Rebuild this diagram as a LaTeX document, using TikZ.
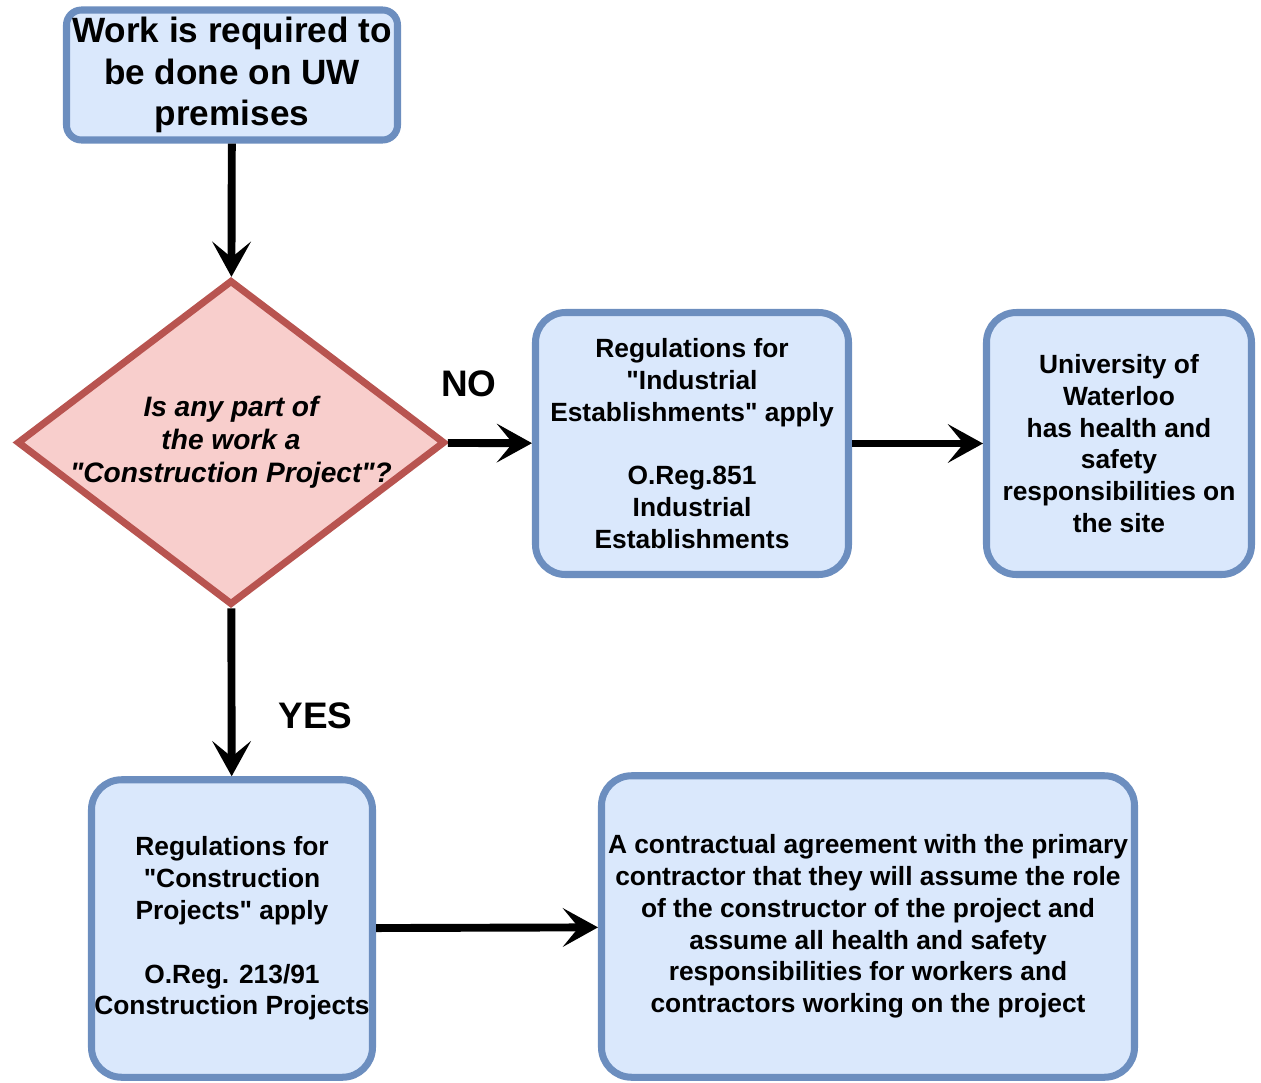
\documentclass[tikz,border=0pt]{standalone}
\usepackage{fontspec}
\setmainfont{Liberation Sans}[Ligatures=TeXOff]
\usetikzlibrary{arrows.meta, positioning, shapes.geometric}
\definecolor{boxfill}{HTML}{DAE8FC}
\definecolor{boxline}{HTML}{6C8EBF}
\definecolor{askfill}{HTML}{F8CECC}
\definecolor{askline}{HTML}{B85450}
\begin{document}
\begin{tikzpicture}[>={Stealth[length=20pt,width=22pt,inset=9pt]},startbox/.style={rectangle,rounded corners=0.3cm,draw=boxline,fill=boxfill,line width=4pt,align=center,inner sep=0pt,font=\fontsize{20}{23.8}\selectfont\bfseries},rulebox/.style={rectangle,rounded corners=0.6cm,draw=boxline,fill=boxfill,line width=4pt,align=center,inner sep=0pt,font=\fontsize{15}{18.1}\selectfont\bfseries},question/.style={diamond,aspect=1.317,draw=askline,fill=askfill,line width=4pt,align=center,inner xsep=-0.4cm,inner ysep=-0.1cm,font=\fontsize{16}{18.7}\selectfont\bfseries\itshape},flow/.style={->,line width=4.5pt},edgelabel/.style={font=\fontsize{21}{24}\selectfont\bfseries}]
\useasboundingbox (0,0) rectangle (25.22,-21.64);
\node[startbox,minimum width=6.62cm,minimum height=2.6cm] (work) at (4.64,-1.5) {Work is required to\\be done on UW\\premises};
\node[question,minimum width=8.56cm,minimum height=6.5cm] (ask) at (4.62,-8.85) {Is any part of\\the work a\\"Construction Project"?};
\node[rulebox,minimum width=6.26cm,minimum height=5.24cm] (indust) at (13.84,-8.87) {Regulations for\\"Industrial\\Establishments" apply\\[18.1pt]O.Reg.851\\Industrial\\Establishments};
\node[rulebox,minimum width=5.3cm,minimum height=5.24cm] (uw) at (22.38,-8.87) {University of\\Waterloo\\has health and\\safety\\responsibilities on\\the site};
\node[rulebox,minimum width=5.62cm,minimum height=5.95cm] (constr) at (4.64,-18.57) {Regulations for\\"Construction\\Projects" apply\\[18.1pt]O.Reg. 213/91\\Construction Projects};
\node[rulebox,minimum width=10.66cm,minimum height=6.03cm] (contract) at (17.36,-18.53) {A contractual agreement with the primary\\contractor that they will assume the role\\of the constructor of the project and\\assume all health and safety\\responsibilities for workers and\\contractors working on the project};
\draw[flow] (work)--(ask);
\draw[flow] (ask)--(indust) node[edgelabel,pos=0.25,yshift=1.18cm] {NO};
\draw[flow] (indust)--(uw);
\draw[flow] (ask)--(constr) node[edgelabel,pos=0.64,xshift=1.68cm] {YES};
\draw[flow] (constr)--(contract);
\end{tikzpicture}
\end{document}
